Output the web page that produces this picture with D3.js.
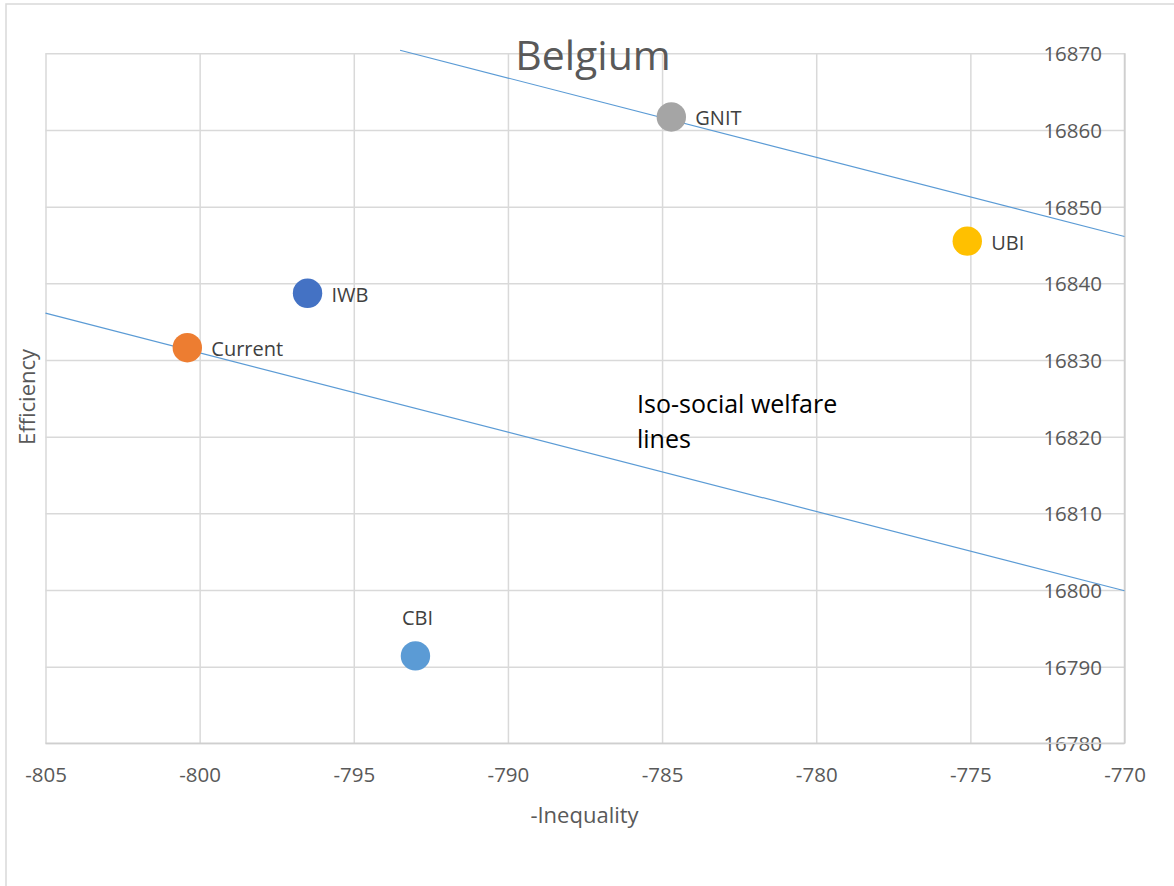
<!DOCTYPE html>
<html>
<head>
<meta charset="utf-8">
<script src="https://cdn.jsdelivr.net/npm/d3@7"></script>
<style>
  body { margin: 0; background: #fff; }
  svg text { font-family: "Open Sans", "Noto Sans", sans-serif; }
</style>
</head>
<body>
<svg id="chart"></svg>
<script>
// policy points: x = -inequality, y = efficiency
const names = ["Current", "IWB", "GNIT", "UBI", "CBI"];
const negInequality = [-800.4, -796.5, -784.7, -775.1, -793.0];
const efficiency = [16831.6, 16838.7, 16861.7, 16845.5, 16791.4];
const colors = ["#ED7D31", "#4472C4", "#A5A5A5", "#FFC000", "#5B9BD5"];
const labelSide = ["right", "right", "right", "right", "top"];

// iso-social welfare lines (two endpoints each)
const upperLine = [[-793.5, 16870.4], [-770, 16846.1]];
const lowerLine = [[-805, 16836.1], [-770, 16799.9]];

const xTicks = [-805, -800, -795, -790, -785, -780, -775, -770];
const yTicks = [16780, 16790, 16800, 16810, 16820, 16830, 16840, 16850, 16860, 16870];

const width = 1174, height = 886;
const plotL = 45.5, plotR = 1124.5, plotT = 53.3, plotB = 743.3;

const svg = d3.select("#chart")
    .attr("width", width)
    .attr("height", height);

// chart area border (runs off the right and bottom of the picture)
svg.append("rect")
    .attr("x", 6).attr("y", 4)
    .attr("width", width + 10).attr("height", height + 10)
    .attr("fill", "#fff")
    .attr("stroke", "#d9d9d9")
    .attr("stroke-width", 1.5);

const x = d3.scaleLinear().domain([-805, -770]).range([plotL, plotR]);
const y = d3.scaleLinear().domain([16780, 16870]).range([plotB, plotT]);

// vertical gridlines + x tick labels
const xAxis = svg.append("g")
    .attr("transform", `translate(0,${plotB})`)
    .call(d3.axisBottom(x)
        .tickValues(xTicks)
        .tickSize(-(plotB - plotT))
        .tickPadding(24)
        .tickFormat(d => String(d)));
xAxis.select(".domain").remove();
xAxis.selectAll("line").attr("stroke", "#d9d9d9").attr("stroke-width", 1.5);
xAxis.selectAll("text")
    .attr("fill", "#595959")
    .style("font-size", "20.5px");

// horizontal gridlines
const yGrid = svg.append("g")
    .attr("transform", `translate(${plotL},0)`)
    .call(d3.axisLeft(y)
        .tickValues(yTicks)
        .tickSize(-(plotR - plotL))
        .tickFormat(""));
yGrid.select(".domain").remove();
yGrid.selectAll("line").attr("stroke", "#d9d9d9").attr("stroke-width", 1.5);

// y tick labels sit inside the plot, just left of the right edge
const yAxis = svg.append("g")
    .attr("transform", `translate(${plotR},0)`)
    .call(d3.axisLeft(y)
        .tickValues(yTicks)
        .tickSize(0)
        .tickPadding(22.5)
        .tickFormat(d => String(d)));
yAxis.select(".domain").remove();
yAxis.selectAll("text")
    .attr("fill", "#595959")
    .attr("dy", "0.37em")
    .style("font-size", "20.5px");

// plot frame (axis lines)
svg.append("path")
    .attr("d", `M${plotL},${plotB}H${plotR}V${plotT}`)
    .attr("fill", "none")
    .attr("stroke", "#cfcfcf")
    .attr("stroke-width", 1.5);

// iso-welfare lines
const line = d3.line().x(d => x(d[0])).y(d => y(d[1]));
svg.selectAll(".iso")
    .data([upperLine, lowerLine])
    .enter()
    .append("path")
    .attr("class", "iso")
    .attr("d", line)
    .attr("fill", "none")
    .attr("stroke", "#5B9BD5")
    .attr("stroke-width", 1.2);

// points
svg.selectAll(".pt")
    .data(names)
    .enter()
    .append("circle")
    .attr("class", "pt")
    .attr("cx", (d, i) => x(negInequality[i]))
    .attr("cy", (d, i) => y(efficiency[i]))
    .attr("r", 14.7)
    .attr("fill", (d, i) => colors[i]);

// point labels
svg.selectAll(".lbl")
    .data(names)
    .enter()
    .append("text")
    .attr("class", "lbl")
    .attr("x", (d, i) => labelSide[i] === "top" ? x(negInequality[i]) + 2 : x(negInequality[i]) + 24)
    .attr("y", (d, i) => labelSide[i] === "top" ? y(efficiency[i]) - 31 : y(efficiency[i]) + 8.5)
    .attr("text-anchor", (d, i) => labelSide[i] === "top" ? "middle" : "start")
    .attr("fill", "#404040")
    .style("font-size", "20px")
    .text(d => d);

// title
svg.append("text")
    .attr("x", 593)
    .attr("y", 70)
    .attr("text-anchor", "middle")
    .attr("fill", "#595959")
    .style("font-size", "41px")
    .text("Belgium");

// axis titles
svg.append("text")
    .attr("x", 584.5)
    .attr("y", 823)
    .attr("text-anchor", "middle")
    .attr("fill", "#595959")
    .style("font-size", "22px")
    .text("-Inequality");

svg.append("text")
    .attr("transform", "translate(35,397) rotate(-90)")
    .attr("text-anchor", "middle")
    .attr("fill", "#595959")
    .style("font-size", "22px")
    .text("Efficiency");

// annotation
const note = svg.append("text")
    .attr("x", 637)
    .attr("y", 413)
    .attr("fill", "#000")
    .style("font-size", "25px");
note.append("tspan").attr("x", 637).text("Iso-social welfare");
note.append("tspan").attr("x", 637).attr("dy", 35).text("lines");
</script>
</body>
</html>
